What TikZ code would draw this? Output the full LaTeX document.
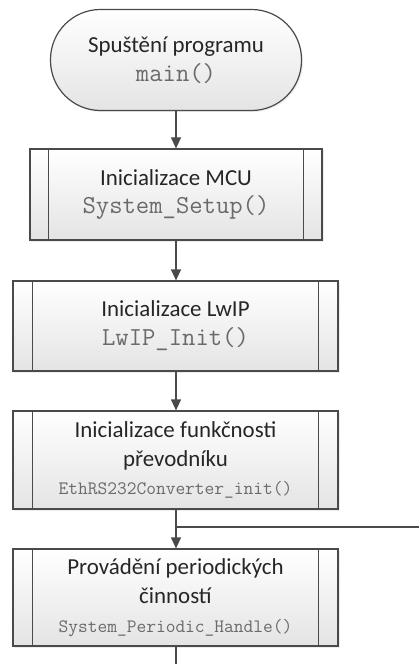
\documentclass[tikz,border=0pt]{standalone}
\usepackage{fontspec}
\setmainfont{Carlito}
\usetikzlibrary{arrows.meta,shadows}
\definecolor{edgec}{HTML}{4A4A4A}
\definecolor{codegray}{HTML}{6A6A6A}
\definecolor{txt}{HTML}{262626}
\definecolor{fillbot}{HTML}{E4E4E4}
\tikzset{
  flowbase/.style={draw=edgec, line width=1.2bp, top color=white, bottom color=fillbot,
    text=txt, align=center, font=\fontsize{23}{29}\selectfont, inner sep=0pt,
    drop shadow={shadow xshift=1.5bp, shadow yshift=-1.5bp, opacity=0.15}},
  term/.style={flowbase, rectangle, rounded corners=50bp, minimum width=251bp, minimum height=101bp},
  proc/.style 2 args={flowbase, rectangle, minimum width=#1, minimum height=#2},
  conn/.style={draw=edgec, line width=1.2bp},
  arr/.style={conn, -{Triangle[length=11bp,width=10bp]}},
}
\newcommand{\codeL}[1]{{\fontsize{26}{29}\selectfont\ttfamily\textcolor{codegray}{#1}}}
\newcommand{\codeS}[1]{{\fontsize{19}{29}\selectfont\ttfamily\textcolor{codegray}{#1}}}
\begin{document}
\begin{tikzpicture}[x=1bp,y=-1bp]
\useasboundingbox (0,0) rectangle (419,664);
\node[term] (start) at (176,60) {Spuštění programu\\\codeL{main()}};
\node[proc={292bp}{91bp}] (b1) at (176,194.5) {Inicializace MCU\\\codeL{System\_Setup()}};
\node[proc={325bp}{90bp}] (b2) at (175.5,326) {Inicializace LwIP\\\codeL{LwIP\_Init()}};
\node[proc={325bp}{98bp}] (b3) at (175.5,460) {Inicializace funkčnosti\\převodníku\\\codeS{EthRS232Converter\_init()}};
\node[proc={325bp}{97bp}] (b4) at (175.5,597.5) {Provádění periodických\\činností\\\codeS{System\_Periodic\_Handle()}};
\foreach \b/\o in {b1/19,b2/20,b3/20,b4/20}{
  \draw[conn] ([xshift=\o bp]\b.north west) -- ([xshift=\o bp]\b.south west);
  \draw[conn] ([xshift=-\o bp]\b.north east) -- ([xshift=-\o bp]\b.south east);
}
\coordinate (j) at (176,527);
\coordinate (loopR) at (419,527);
\coordinate (loopB) at (176,664);
\draw[arr] (start.south) -- (start.south |- b1.north);
\draw[arr] (b1.south) -- (b1.south |- b2.north);
\draw[arr] (b2.south -| b1.south) -- (b1.south |- b3.north);
\draw[arr] (b3.south -| j) -- (j |- b4.north);
\draw[conn] (loopR) -- (j);
\draw[conn] (b4.south -| j) -- (loopB);
\end{tikzpicture}
\end{document}
